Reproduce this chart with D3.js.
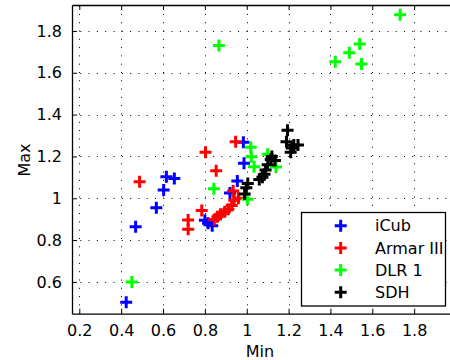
<!DOCTYPE html>
<html>
<head>
<meta charset="utf-8">
<script src="https://cdn.jsdelivr.net/npm/d3@7"></script>
<style>
  body { margin: 0; background: #fff; }
  text { font-family: "DejaVu Sans", sans-serif; font-size: 16px; fill: #000; }
</style>
</head>
<body>
<div id="chart"></div>
<script>
// values
var seriesNames = ["iCub", "Armar III", "DLR 1", "SDH"];
var seriesColors = ["#0000ff", "#ff0000", "#00ff00", "#000000"];

var icubMin = [0.424, 0.469, 0.568, 0.603, 0.616, 0.654, 0.800, 0.815, 0.835, 0.920, 0.955, 0.987, 0.984];
var icubMax = [0.503, 0.864, 0.955, 1.039, 1.103, 1.095, 0.895, 0.880, 0.868, 1.025, 1.082, 1.167, 1.268];

var armarMin = [0.488, 0.720, 0.720, 0.785, 0.803, 0.854, 0.947, 0.845, 0.860, 0.875, 0.895, 0.912, 0.928, 0.940, 0.960, 0.935];
var armarMax = [1.079, 0.896, 0.852, 0.942, 1.220, 1.132, 1.270, 0.898, 0.912, 0.924, 0.935, 0.948, 0.965, 0.990, 1.000, 1.035];

var dlrMin = [0.451, 0.867, 0.843, 1.003, 1.019, 1.022, 1.035, 1.100, 1.140, 1.423, 1.490, 1.540, 1.548, 1.733];
var dlrMax = [0.600, 1.730, 1.046, 0.995, 1.244, 1.198, 1.151, 1.210, 1.150, 1.653, 1.696, 1.738, 1.642, 1.877];

var sdhMin = [0.990, 0.998, 1.005, 1.060, 1.075, 1.085, 1.090, 1.100, 1.115, 1.135, 1.120, 1.195, 1.190, 1.210, 1.225, 1.245, 1.215];
var sdhMax = [1.020, 1.050, 1.070, 1.090, 1.100, 1.115, 1.135, 1.160, 1.185, 1.180, 1.200, 1.325, 1.270, 1.220, 1.255, 1.255, 1.240];

var xTicks = [0.2, 0.4, 0.6, 0.8, 1, 1.2, 1.4, 1.6, 1.8];
var yTicks = [0.6, 0.8, 1, 1.2, 1.4, 1.6, 1.8];

var allMin = [icubMin, armarMin, dlrMin, sdhMin];
var allMax = [icubMax, armarMax, dlrMax, sdhMax];

var width = 450, height = 360;
var plotLeft = 72, plotTop = 5, plotRight = 456, plotBottom = 313.7;

var x = d3.scaleLinear().domain([0.165, 2.0]).range([plotLeft, plotRight]);
var y = d3.scaleLinear().domain([0.448, 1.924]).range([plotBottom, plotTop]);

var svg = d3.select("#chart")
    .append("svg")
    .attr("width", width)
    .attr("height", height);

// dotted grid
var grid = svg.append("g")
    .attr("stroke", "#000")
    .attr("stroke-width", 1)
    .attr("stroke-dasharray", "1,7.3");
grid.selectAll(".vgrid")
    .data(xTicks)
    .join("line")
    .attr("class", "vgrid")
    .attr("x1", d => Math.round(x(d)) + 0.5)
    .attr("x2", d => Math.round(x(d)) + 0.5)
    .attr("y1", plotBottom)
    .attr("y2", plotTop);
grid.selectAll(".hgrid")
    .data(yTicks)
    .join("line")
    .attr("class", "hgrid")
    .attr("y1", d => Math.round(y(d)) + 0.5)
    .attr("y2", d => Math.round(y(d)) + 0.5)
    .attr("x1", plotLeft)
    .attr("x2", plotRight);

// axes, ticks inside like matlab
var fmt = d => String(+d.toFixed(1));
svg.append("g")
    .attr("transform", `translate(0, ${plotBottom})`)
    .call(d3.axisBottom(x).tickValues(xTicks).tickFormat(fmt).tickSizeInner(-5).tickSizeOuter(0).tickPadding(11));
svg.append("g")
    .attr("transform", `translate(0, ${plotTop})`)
    .call(d3.axisTop(x).tickValues(xTicks).tickFormat("").tickSizeInner(-5).tickSizeOuter(0));
svg.append("g")
    .attr("transform", `translate(${plotLeft}, 0)`)
    .call(d3.axisLeft(y).tickValues(yTicks).tickFormat(fmt).tickSizeInner(-5).tickSizeOuter(0).tickPadding(10));

svg.selectAll(".domain").attr("stroke", "#000").attr("stroke-width", 1.3);
svg.selectAll(".tick line").attr("stroke", "#000");
svg.selectAll(".tick text")
    .attr("font-family", "DejaVu Sans")
    .attr("font-size", 16)
    .attr("fill", "#000");

// plus markers
var plus = "M-6,0H6M0,-6V6";
allMin.forEach((mins, s) => {
    svg.append("g")
        .selectAll("path")
        .data(mins.map((v, i) => ({ mn: v, mx: allMax[s][i] })))
        .join("path")
        .attr("d", plus)
        .attr("transform", d => `translate(${x(d.mn)}, ${y(d.mx)})`)
        .attr("fill", "none")
        .attr("stroke", seriesColors[s])
        .attr("stroke-width", 3);
});

// axis labels
svg.append("text")
    .attr("x", 260)
    .attr("y", 357)
    .attr("text-anchor", "middle")
    .text("Min");
svg.append("text")
    .attr("transform", "translate(30, 160) rotate(-90)")
    .attr("text-anchor", "middle")
    .text("Max");

// legend
var legend = svg.append("g");
legend.append("rect")
    .attr("x", 301.5)
    .attr("y", 212.5)
    .attr("width", 144)
    .attr("height", 93.5)
    .attr("fill", "#fff")
    .attr("stroke", "#000")
    .attr("stroke-width", 1.3);
var items = legend.selectAll(".item")
    .data(seriesNames)
    .join("g")
    .attr("class", "item")
    .attr("transform", (d, i) => `translate(0, ${225.7 + i * 22.2})`);
items.append("path")
    .attr("d", plus)
    .attr("transform", "translate(340.7, 0)")
    .attr("fill", "none")
    .attr("stroke", (d, i) => seriesColors[i])
    .attr("stroke-width", 3);
items.append("text")
    .attr("x", 375)
    .attr("dy", "0.36em")
    .text(d => d);
</script>
</body>
</html>
